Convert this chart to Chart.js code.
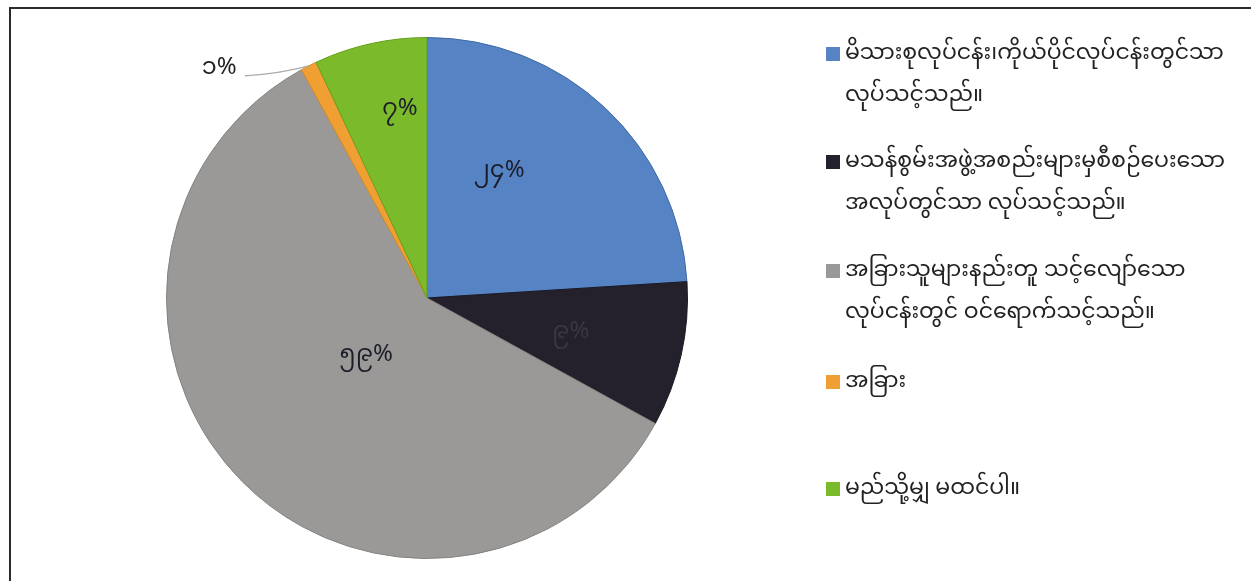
<!DOCTYPE html>
<html>
<head>
<meta charset="utf-8">
<script src="https://cdn.jsdelivr.net/npm/chart.js@4"></script>
<style>
  html, body { margin: 0; padding: 0; background: #fff; }
  #wrap { position: relative; width: 1251px; height: 581px; overflow: hidden; }
  #frame { position: absolute; left: 9px; top: 7px; width: 1300px; height: 600px;
           border-top: 2px solid #2a2a2a; border-left: 2px solid #2a2a2a; }
  canvas { position: absolute; left: 0; top: 0; }
  #legend { position: absolute; left: 826px; top: 0; width: 425px;
            font-family: "Noto Sans Myanmar", "Noto Sans", "DejaVu Sans", sans-serif;
            font-size: 22px; color: #222; }
  .item { position: absolute; left: 0; display: flex; align-items: flex-start; line-height: 42px; white-space: nowrap; }
  .box { width: 14px; height: 14px; margin-top: 14px; margin-right: 5px; flex: none; }
</style>
</head>
<body>
<div id="wrap">
  <div id="frame"></div>
  <canvas id="chart" width="1251" height="581"></canvas>
  <div id="legend"></div>
</div>
<script>
const categories = [
  'မိသားစုလုပ်ငန်း၊ကိုယ်ပိုင်လုပ်ငန်းတွင်သာ\nလုပ်သင့်သည်။',
  'မသန်စွမ်းအဖွဲ့အစည်းများမှစီစဉ်ပေးသော\nအလုပ်တွင်သာ လုပ်သင့်သည်။',
  'အခြားသူများနည်းတူ သင့်လျော်သော\nလုပ်ငန်းတွင် ဝင်ရောက်သင့်သည်။',
  'အခြား',
  'မည်သို့မျှ မထင်ပါ။'
];
const values = [24, 9, 59, 1, 7];
const valueLabels = ['၂၄%', '၉%', '၅၉%', '၁%', '၇%'];
const colors = ['#5583c4', '#25212c', '#9b9997', '#f0a032', '#7bbb2b'];
const edgeColors = ['#3f6aa6', '#1a1720', '#858380', '#d98a20', '#64a01e'];

// legend, built from the arrays
const legendTops = [33, 141, 250, 361, 468];
const legendDiv = document.getElementById('legend');
categories.forEach((c, i) => {
  const d = document.createElement('div');
  d.className = 'item';
  d.style.top = legendTops[i] + 'px';
  d.innerHTML = `<span class="box" style="background:${colors[i]}"></span><span>${c.replace('\n', '<br>')}</span>`;
  legendDiv.appendChild(d);
});

// percent labels: [fraction along the arc, fraction of radius]
const labelPos = [[0.35, 0.55], [0.56, 0.57], [0.5, 0.33], null, [0.67, 0.72]];
const sliceLabels = {
  id: 'sliceLabels',
  afterDatasetsDraw(chart) {
    const ctx = chart.ctx;
    const arcs = chart.getDatasetMeta(0).data;
    ctx.save();
    ctx.font = '24px "Noto Sans Myanmar", "Noto Sans", "DejaVu Sans", sans-serif';
    ctx.textBaseline = 'middle';
    arcs.forEach((a, i) => {
      if (labelPos[i] === null) {
        // outside label with leader line
        const mid = (a.startAngle + a.endAngle) / 2;
        const px = a.x + Math.cos(mid) * a.outerRadius;
        const py = a.y + Math.sin(mid) * a.outerRadius;
        ctx.strokeStyle = '#aaa';
        ctx.lineWidth = 1.3;
        ctx.beginPath();
        ctx.moveTo(px, py);
        ctx.quadraticCurveTo(px - 30, py + 8, px - 64, py + 10);
        ctx.stroke();
        ctx.fillStyle = '#222';
        ctx.textAlign = 'right';
        ctx.fillText(valueLabels[i], px - 72, py + 6);
        return;
      }
      const ang = a.startAngle + (a.endAngle - a.startAngle) * labelPos[i][0];
      const r = a.outerRadius * labelPos[i][1];
      ctx.fillStyle = i === 1 ? '#3b3640' : '#1d1d2a';
      ctx.textAlign = 'center';
      ctx.fillText(valueLabels[i], a.x + Math.cos(ang) * r, a.y + Math.sin(ang) * r);
    });
    ctx.restore();
  }
};

new Chart(document.getElementById('chart').getContext('2d'), {
  type: 'pie',
  data: {
    labels: categories,
    datasets: [{
      data: values,
      backgroundColor: colors,
      borderColor: edgeColors,
      borderWidth: 1
    }]
  },
  options: {
    responsive: false,
    animation: false,
    layout: { padding: { left: 166, right: 563, top: 37, bottom: 22 } },
    plugins: { legend: { display: false }, tooltip: { enabled: false } }
  },
  plugins: [sliceLabels]
});
</script>
</body>
</html>
